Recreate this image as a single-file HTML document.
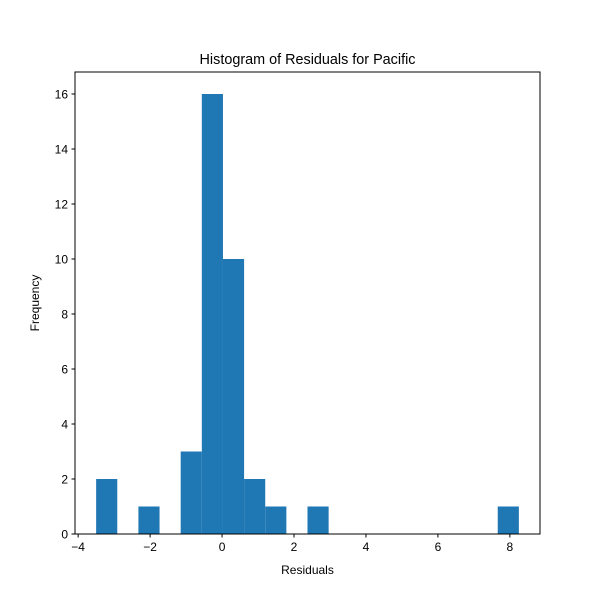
<!DOCTYPE html>
<html><head><meta charset="utf-8"><style>body{margin:0;background:#fff}svg{display:block;font-family:"Liberation Sans","DejaVu Sans",sans-serif}</style></head>
<body>
<svg id="chart" width="600" height="600"></svg>
<script>
const binStart = -3.5;
const binWidth = 0.5875;
const counts = [2,0,1,0,3,16,10,2,1,0,1,0,0,0,0,0,0,0,0,1];
const xTicks = [-4,-2,0,2,4,6,8];
const yTicks = [0,2,4,6,8,10,12,14,16];
const L=75,R=540,T=72,B=534, xmin=-4.0875,xmax=8.8375,ymax=16.8;
const sx=v=>L+(v-xmin)*(R-L)/(xmax-xmin);
const sy=v=>B-v*(B-T)/ymax;
const svg=document.getElementById('chart');
const NS='http://www.w3.org/2000/svg';
function mk(t,a,txt){const e=document.createElementNS(NS,t);for(const k in a)e.setAttribute(k,a[k]);if(txt!==undefined)e.textContent=txt;svg.appendChild(e);return e;}
counts.forEach((c,i)=>{if(!c)return;const x0=sx(binStart+i*binWidth),x1=sx(binStart+(i+1)*binWidth);
const r=mk('rect',{x:x0,y:sy(c),width:x1-x0,height:sy(0)-sy(c),fill:'#1f77b4'});

});
const f=mk('rect',{x:L,y:T,width:R-L,height:B-T,fill:'none',stroke:'#000','stroke-width':1});


xTicks.forEach(v=>{const x=sx(v);mk('line',{x1:x,x2:x,y1:B,y2:B+3.5,stroke:'#000'});
const t=mk('text',{x:x,y:B+17,'font-size':12,'text-anchor':'middle'},v<0?'\u2212'+(-v):''+v);

});
yTicks.forEach(v=>{const y=sy(v);mk('line',{x1:L,x2:L-3.5,y1:y,y2:y,stroke:'#000'});
const t=mk('text',{x:L-7,y:y+4.5,'font-size':12,'text-anchor':'end'},''+v);

});
const xt=mk('text',{x:(L+R)/2,y:574,'font-size':12,'text-anchor':'middle'},'Residuals');


const yt=mk('text',{x:39,y:(T+B)/2,'font-size':12,'text-anchor':'middle',transform:'rotate(-90 39 '+(T+B)/2+')'},'Frequency');


const tt=mk('text',{x:(L+R)/2,y:64,'font-size':14.4,'text-anchor':'middle'},'Histogram of Residuals for Pacific');


</script>
</body></html>
